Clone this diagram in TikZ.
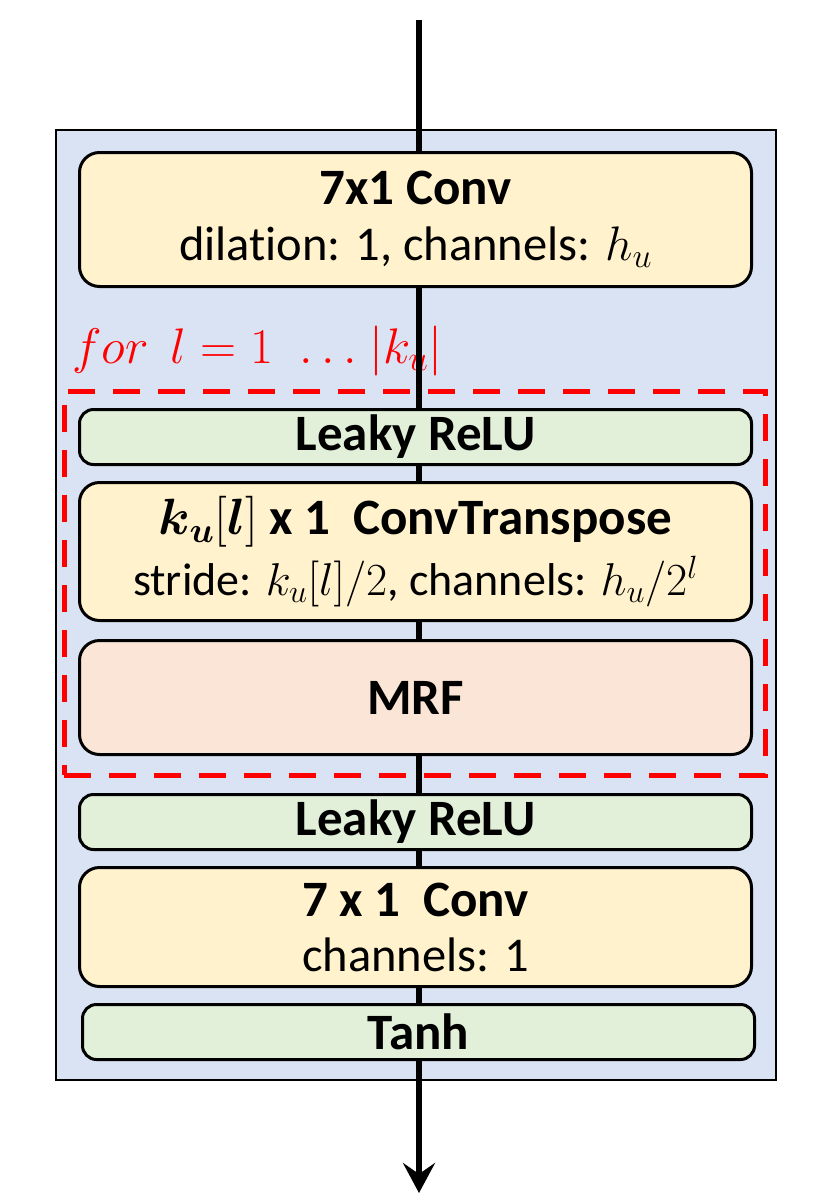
\RequirePackage{fix-cm}
\documentclass[tikz,border=0pt]{standalone}
\usepackage{bm}
\usepackage{fontspec}
\setmainfont{Carlito}[Ligatures={NoCommon}]
\usetikzlibrary{arrows.meta}
\definecolor{bluebg}{HTML}{DAE3F3}
\definecolor{yellowbox}{HTML}{FFF2CC}
\definecolor{greenbox}{HTML}{E2F0D9}
\definecolor{salmonbox}{HTML}{FBE5D6}
\definecolor{loopred}{HTML}{FF0000}
\newcommand{\titlefont}{\fontsize{51}{58}\selectfont\bfseries}
\newcommand{\bodyfont}{\fontsize{48.5}{56}\selectfont}
\newcommand{\subfont}{\fontsize{46}{52}\selectfont}
\begin{document}
\begin{tikzpicture}[x=1pt,y=-1pt,
  blk/.style={draw=black, line width=3pt, rounded corners=20pt,
    minimum width=672pt, inner sep=0pt, align=center,
    font=\fontsize{50}{58}\selectfont},
  convbox/.style={blk, fill=yellowbox},
  actbox/.style={blk, fill=greenbox, rounded corners=14pt},
  mrfbox/.style={blk, fill=salmonbox},
  flow/.style={line width=5.5pt, draw=black},
  loopbox/.style={draw=loopred, line width=5pt, dash pattern=on 27pt off 18pt},
  outerbox/.style={draw=black, line width=2.5pt, fill=bluebg}
]
\useasboundingbox (0,0) rectangle (834,1200);
% outer container
\node[outerbox, minimum width=720pt, minimum height=950pt, inner sep=0pt] (outer) at (416,605) {};
% flow line endpoints
\coordinate (top) at (419,20);
\coordinate (bot) at (419,1193);
% boxes
\node[convbox, minimum height=134pt] (conv1) at (415.5,219.5)
  {{\titlefont 7x1 Conv}\\[-2pt] {\bodyfont dilation: 1, channels: $h_u$}};
\node[loopbox, minimum width=701pt, minimum height=384pt, inner sep=0pt] (loop) at (414.5,583) {};
\node[text=loopred, anchor=base west, inner sep=0pt, font=\fontsize{50}{54}\selectfont] (looplbl) at (72,363)
  {$for\hspace{22pt}l=1\hspace{18pt}\ldots\hspace{4pt}|k_u|$};
\node[actbox, minimum height=55pt] (relu1) at (415.5,437) {\titlefont Leaky ReLU};
\node[convbox, minimum height=138pt] (convt) at (415.5,551.5)
  {{\titlefont $\bm{k_u}[\bm{l}]$ x 1\ \ ConvTranspose}\\[3pt]
   {\subfont stride: $k_u[l]/2$, channels: $h_u/2^l$}};
\node[mrfbox, minimum height=114pt] (mrf) at (415.5,697.5) {\titlefont MRF};
\node[actbox, minimum height=55pt] (relu2) at (415.5,822) {\titlefont Leaky ReLU};
\node[convbox, minimum height=119pt] (conv2) at (415.5,927)
  {{\titlefont 7 x 1\ \ Conv}\\[-3pt] {\bodyfont channels: 1}};
\node[actbox, minimum height=55pt] (tanh) at (418.5,1032) {\titlefont Tanh};
% connectors
\draw[flow] (top) -- (conv1.north -| top);
\draw[flow] (conv1.south -| top) -- (relu1.north -| top);
\draw[flow] (relu1.south -| top) -- (convt.north -| top);
\draw[flow] (convt.south -| top) -- (mrf.north -| top);
\draw[flow] (mrf.south -| top) -- (relu2.north -| top);
\draw[flow] (relu2.south -| top) -- (conv2.north -| top);
\draw[flow] (conv2.south -| top) -- (tanh.north -| top);
\draw[flow, -{Stealth[length=30pt, width=32pt, inset=11pt]}] (tanh.south -| top) -- (bot);
\end{tikzpicture}
\end{document}
